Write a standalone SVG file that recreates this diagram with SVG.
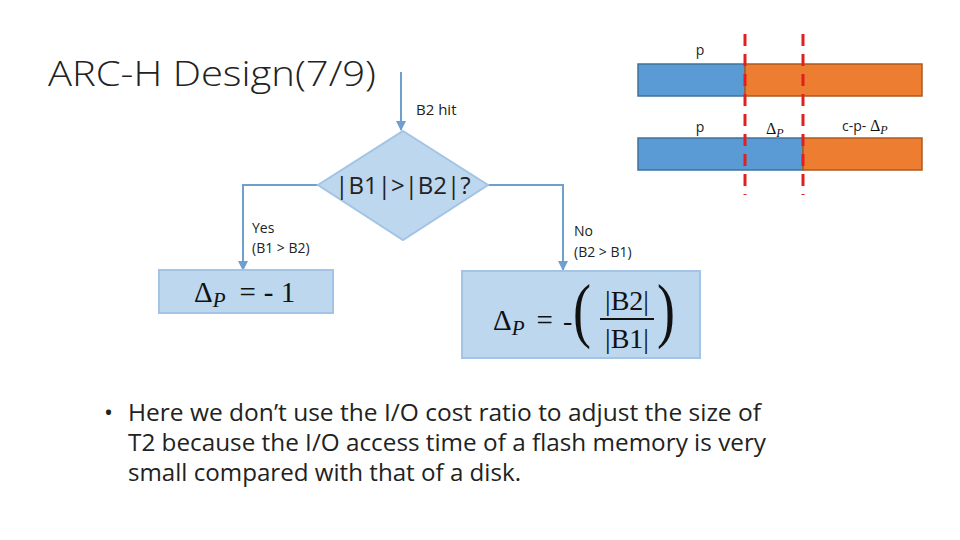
<svg xmlns="http://www.w3.org/2000/svg" width="960" height="540" viewBox="0 0 960 540">
<defs>
<style>
.t{font-family:"Open Sans","Liberation Sans",sans-serif;fill:#222}
.m{font-family:"Liberation Serif","DejaVu Serif",serif;fill:#111}
.box{fill:#bdd7ee;stroke:#a3c4e4;stroke-width:2}
.con{fill:none;stroke:#6f9fcf;stroke-width:2}
.red{stroke:#e02020;stroke-width:3;stroke-dasharray:12,8}
</style>
<marker id="ah" viewBox="0 0 10 10" refX="9" refY="5" markerWidth="5" markerHeight="5" orient="auto">
<path d="M0,0 L10,5 L0,10 z" fill="#6f9fcf"/>
</marker>
</defs>
<rect width="960" height="540" fill="#fff"/>
<text class="t" x="48" y="86" font-size="34" font-weight="300" textLength="328" lengthAdjust="spacingAndGlyphs">ARC-H Design(7/9)</text>

<g id="connectors">
<path class="con" d="M401,72 V130" marker-end="url(#ah)"/>
<path class="con" d="M318,185 H243 V270" marker-end="url(#ah)"/>
<path class="con" d="M488,185 H563 V270" marker-end="url(#ah)"/>
</g>
<text class="t" x="416" y="115" font-size="15">B2 hit</text>

<g id="decision">
<polygon class="box" points="403,131 488,185 403,240 318,185"/>
<text class="t" x="403" y="194" font-size="24" text-anchor="middle">|B1|&gt;|B2|?</text>
</g>

<g id="yes-label">
<text class="t" x="252" y="233" font-size="14">Yes</text>
<text class="t" x="252" y="253" font-size="14">(B1 &gt; B2)</text>
</g>
<g id="no-label">
<text class="t" x="574" y="236" font-size="14">No</text>
<text class="t" x="574" y="257" font-size="14">(B2 &gt; B1)</text>
</g>

<g id="yes-box">
<rect class="box" x="159" y="270" width="174" height="43"/>
<text class="m" x="194" y="302" font-size="29">Δ<tspan font-style="italic" font-size="21" dy="5">P</tspan><tspan dy="-5" dx="14">=</tspan><tspan dx="8">- 1</tspan></text>
</g>

<g id="no-box">
<rect class="box" x="462" y="271" width="238" height="87"/>
<text class="m" x="493" y="330" font-size="29">Δ<tspan font-style="italic" font-size="21" dy="5">P</tspan><tspan dy="-5" dx="12">=</tspan></text>
<text class="m" x="563" y="330" font-size="28">-</text>
<text class="m" x="573" y="334" font-size="60" transform="translate(573 334) scale(0.9 1.2) translate(-573 -334)">(</text>
<text class="m" x="627" y="310" font-size="28" text-anchor="middle">|B2|</text>
<line x1="600" y1="319" x2="654" y2="319" stroke="#111" stroke-width="2"/>
<text class="m" x="627" y="348" font-size="28" text-anchor="middle">|B1|</text>
<text class="m" x="657" y="334" font-size="60" transform="translate(657 334) scale(0.9 1.2) translate(-657 -334)">)</text>
</g>

<g id="bars">
<rect x="638" y="64" width="107" height="32" fill="#5b9bd5" stroke="#41719c" stroke-width="1.5"/>
<rect x="745" y="64" width="177" height="32" fill="#ed7d31" stroke="#ae5a21" stroke-width="1.5"/>
<rect x="638" y="138" width="165" height="32" fill="#5b9bd5" stroke="#41719c" stroke-width="1.5"/>
<rect x="803" y="138" width="119" height="32" fill="#ed7d31" stroke="#ae5a21" stroke-width="1.5"/>
<line class="red" x1="745" y1="34" x2="745" y2="195"/>
<line class="red" x1="803" y1="34" x2="803" y2="195"/>
<text class="t" x="700" y="55" font-size="14" text-anchor="middle">p</text>
<text class="t" x="700" y="132" font-size="14" text-anchor="middle">p</text>
<text class="m" x="766" y="134" font-size="16">Δ<tspan font-style="italic" font-size="12" dy="3">P</tspan></text>
<text class="t" x="842" y="131" font-size="14">c-p- <tspan class="m" font-size="16">Δ</tspan><tspan class="m" font-style="italic" font-size="12" dy="3">P</tspan></text>
</g>

<g id="bullet">
<text class="t" x="104" y="421" font-size="24">•</text>
<text class="t" x="128" y="421" font-size="24" textLength="633" lengthAdjust="spacingAndGlyphs">Here we don’t use the I/O cost ratio to adjust the size of</text>
<text class="t" x="128" y="451" font-size="24" textLength="638" lengthAdjust="spacingAndGlyphs">T2 because the I/O access time of a flash memory is very</text>
<text class="t" x="128" y="481" font-size="24" textLength="393" lengthAdjust="spacingAndGlyphs">small compared with that of a disk.</text>
</g>
</svg>
